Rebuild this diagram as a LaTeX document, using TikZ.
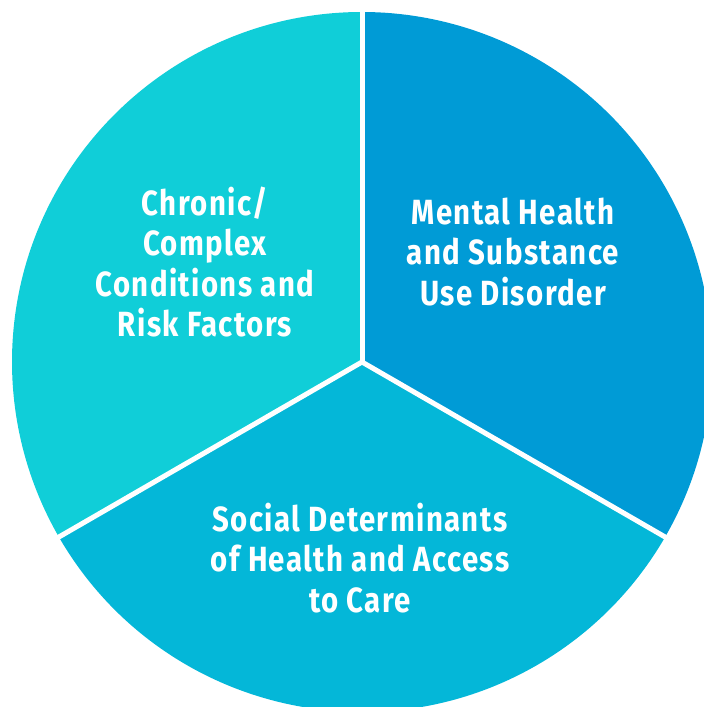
\documentclass[tikz,border=0pt]{standalone}
\usepackage{fontspec}
\setmainfont{Fira Sans}[FakeStretch=0.84,LetterSpace=4]
\definecolor{segleft}{RGB}{16,206,216}
\definecolor{segright}{RGB}{0,155,214}
\definecolor{segbottom}{RGB}{4,183,216}
\begin{document}
\begin{tikzpicture}[x=1pt,y=1pt,
  label/.style={text=white,align=center,inner sep=0pt,font=\bfseries\fontsize{35}{40.5}\selectfont},
  sep/.style={white,line width=5pt}]
\useasboundingbox (0,0) rectangle (704,707);
\coordinate (c) at (362,345);
\begin{scope}
\clip (0,0) rectangle (704,707);
\fill[segleft] (c) -- ++(90:350) arc[start angle=90,end angle=210,radius=350] -- cycle;
\fill[segbottom] (c) -- ++(210:350) arc[start angle=210,end angle=330,radius=350] -- cycle;
\fill[segright] (c) -- ++(330:350) arc[start angle=330,end angle=450,radius=350] -- cycle;
\end{scope}
\path (c) ++(90:352) coordinate (e1);
\path (c) ++(210:352) coordinate (e2);
\path (c) ++(330:352) coordinate (e3);
\draw[sep] (c) -- (e1);
\draw[sep] (c) -- (e2);
\draw[sep] (c) -- (e3);
\node[label] (chronic) at (205,445) {Chronic/\\Complex\\Conditions and\\Risk Factors};
\node[label] (mental) at (513,455) {Mental Health\\and Substance\\Use Disorder};
\node[label] (social) at (360,149) {Social Determinants\\of Health and Access\\to Care};
\end{tikzpicture}
\end{document}
